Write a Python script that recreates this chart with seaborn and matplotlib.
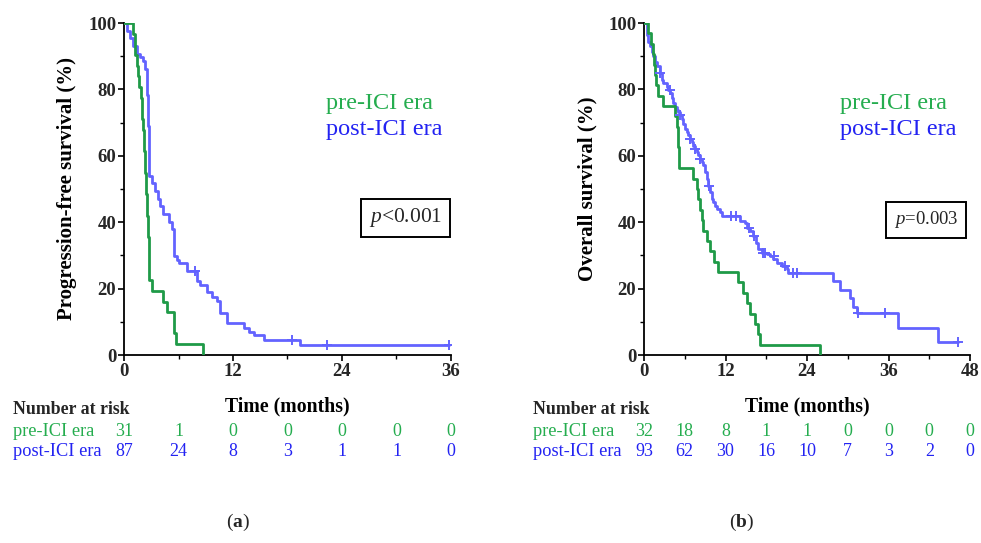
import matplotlib
matplotlib.use("Agg")
import matplotlib.pyplot as plt
import matplotlib.transforms as mtransforms
from matplotlib.ticker import MultipleLocator
import seaborn as sns
import pandas as pd

# ---------------- data ----------------
pfs_pre_t = [0, 1.0, 1.2, 1.4, 1.5, 1.7, 1.9, 2.0, 2.1, 2.2, 2.3, 2.4, 2.5, 2.6, 2.7, 2.8, 3.05, 4.27, 4.78, 5.5, 5.7, 8.7]
pfs_pre_s = [100, 96.8, 90.3, 87.1, 83.9, 80.6, 77.4, 71.0, 67.7, 61.3, 54.8, 48.4, 41.9, 35.5, 29.0, 22.6, 19.4, 16.1, 12.9, 6.5, 3.2, 0]

pfs_post_t = [0, 0.3, 0.66, 1.03, 1.4, 1.77, 2.13, 2.32, 2.5, 2.58, 2.65, 2.72, 2.8, 3.05, 3.42, 3.79, 3.97, 4.34, 4.9,
              5.26, 5.45, 5.52, 5.82, 6.0, 6.92, 8.02, 8.39, 9.13, 9.68, 10.23, 10.6, 11.34, 13.18, 13.73, 14.28, 15.38, 19.43, 35.8]
pfs_post_s = [100, 97.7, 95.4, 93.1, 90.8, 89.7, 88.5, 86.2, 83.9, 78.2, 69.0, 59.8, 54.0, 51.7, 49.4, 47.1, 44.8, 42.5, 40.2,
              37.9, 33.3, 29.9, 28.7, 27.6, 25.3, 22.2, 21.0, 18.9, 17.6, 16.4, 12.6, 9.5, 8.2, 7.0, 5.9, 4.6, 3.1, 3.1]
pfs_post_cens_t = [7.84, 18.51, 22.4, 35.8]
pfs_post_cens_s = [25.3, 4.6, 3.1, 3.1]

os_pre_t = [0, 0.64, 1.0, 1.37, 1.5, 1.62, 1.77, 2.11, 2.85, 4.56, 4.81, 5.0, 5.06, 5.2, 7.26, 7.8, 8.0, 8.3, 8.49, 8.74,
            9.23, 9.72, 10.3, 10.94, 13.9, 14.63, 15.12, 15.6, 16.34, 16.83, 17.08, 25.9]
os_pre_s = [100, 96.9, 93.75, 90.6, 87.5, 84.4, 81.25, 78.1, 75.0, 71.9, 68.75, 65.6, 62.5, 56.25, 53.1, 50.0, 46.9, 43.75, 40.6, 37.5,
            34.4, 31.25, 28.1, 25.0, 21.9, 18.75, 15.6, 12.5, 9.4, 6.25, 3.1, 0]

os_post_t = [0, 0.39, 0.64, 0.88, 1.13, 1.37, 1.62, 1.87, 2.36, 2.6, 2.85, 3.34, 3.58, 3.83, 4.07, 4.32, 4.56, 4.81, 5.06, 5.3,
             5.55, 5.79, 6.04, 6.28, 6.53, 6.77, 7.02, 7.26, 7.51, 7.75, 8.0, 8.25, 8.49, 8.74, 8.98, 9.23, 9.47, 9.72, 9.96, 10.21,
             10.45, 10.7, 11.19, 11.44, 14.13, 14.87, 15.12, 15.61, 16.1, 16.49, 16.83, 17.33, 18.06, 18.55, 19.04, 19.53, 20.27,
             21.0, 21.25, 27.88, 28.86, 30.33, 30.82, 31.31, 37.45, 43.34, 46.28]
os_post_s = [100, 96.5, 94.4, 93.0, 91.4, 90.0, 88.4, 86.9, 84.8, 82.8, 81.8, 80.8, 79.8, 78.8, 77.3, 75.8, 74.7, 73.7, 73.2, 72.2,
             71.2, 69.7, 68.2, 67.2, 66.2, 65.2, 64.1, 63.1, 62.1, 61.1, 60.1, 59.1, 58.1, 57.1, 55.0, 53.0, 51.0, 49.0, 47.0, 46.0,
             45.0, 44.0, 43.0, 42.0, 40.4, 39.9, 38.4, 37.4, 35.9, 33.8, 31.8, 30.8, 30.3, 29.8, 28.8, 27.8, 26.8,
             25.8, 24.7, 22.2, 19.7, 17.2, 14.6, 12.6, 8.1, 4.0, 4.0]
os_post_cens_t = [2.4, 3.8, 5.3, 6.8, 7.5, 8.2, 9.5, 12.8, 13.6, 15.4, 16.2, 17.5, 17.8, 19.2, 20.8, 21.9, 22.6, 31.5, 35.5, 46.28]
os_post_cens_s = [84.8, 79.8, 72.2, 65.2, 62.1, 59.1, 51.0, 42.0, 42.0, 38.4, 35.9, 30.8, 30.8, 29.8, 26.8, 24.7, 24.7, 12.6, 12.6, 4.0]

group_labels = ["pre-ICI era", "post-ICI era"]
risk_times_pfs = [0, 6, 12, 18, 24, 30, 36]
risk_pre_pfs = [31, 1, 0, 0, 0, 0, 0]
risk_post_pfs = [87, 24, 8, 3, 1, 1, 0]
risk_times_os = [0, 6, 12, 18, 24, 30, 36, 42, 48]
risk_pre_os = [32, 18, 8, 1, 1, 0, 0, 0, 0]
risk_post_os = [93, 62, 30, 16, 10, 7, 3, 2, 0]

p_texts = [r"$p$<0.001", r"$p$=0.003"]
ylabels = ["Progression-free survival (%)", "Overall survival (%)"]
panel_labels = ["a", "b"]

# ---------------- style ----------------
sns.set_theme(style="ticks")
plt.rcParams["font.family"] = ["Liberation Serif", "DejaVu Serif"]
plt.rcParams["mathtext.fontset"] = "custom"
plt.rcParams["mathtext.rm"] = "Liberation Serif"
plt.rcParams["mathtext.it"] = "Liberation Serif:italic"
plt.rcParams["mathtext.bf"] = "Liberation Serif:bold"

GREEN_LINE = "#1f9a48"
BLUE_LINE = "#6363ff"
GREEN_TXT = "#25ad4f"
BLUE_TXT = "#2323f2"

fig = plt.figure(figsize=(9.81, 5.43), dpi=100)
ax1 = fig.add_axes([124 / 981, (543 - 355) / 543, 327 / 981, 332 / 543])
ax2 = fig.add_axes([644 / 981, (543 - 355) / 543, 326 / 981, 332 / 543])

panels = [
    dict(ax=ax1, pre=(pfs_pre_t, pfs_pre_s), post=(pfs_post_t, pfs_post_s),
         cens=(pfs_post_cens_t, pfs_post_cens_s), xmax=36,
         rt=risk_times_pfs, rpre=risk_pre_pfs, rpost=risk_post_pfs,
         leg_x=22.2, p_xy=(31.0, 41.4), p_size=15.5, p_pad=0.35, ylab=ylabels[0], pl=panel_labels[0],
         row_x=13 / 981, pl_x=238 / 981, p_txt=p_texts[0], ylab_x=-0.145),
    dict(ax=ax2, pre=(os_pre_t, os_pre_s), post=(os_post_t, os_post_s),
         cens=(os_post_cens_t, os_post_cens_s), xmax=48,
         rt=risk_times_os, rpre=risk_pre_os, rpost=risk_post_os,
         leg_x=28.8, p_xy=(41.5, 40.7), p_size=13.5, p_pad=0.42, ylab=ylabels[1], pl=panel_labels[1],
         row_x=533 / 981, pl_x=742 / 981, p_txt=p_texts[1], ylab_x=-0.142),
]

for P in panels:
    ax = P["ax"]
    dpre = pd.DataFrame({"t": P["pre"][0], "s": P["pre"][1]})
    dpost = pd.DataFrame({"t": P["post"][0], "s": P["post"][1]})
    dc = pd.DataFrame({"t": P["cens"][0], "s": P["cens"][1]})
    sns.lineplot(data=dpost, x="t", y="s", ax=ax, color=BLUE_LINE, lw=2.0,
                 drawstyle="steps-post", estimator=None, sort=False, zorder=3)
    sns.lineplot(data=dpre, x="t", y="s", ax=ax, color=GREEN_LINE, lw=2.0,
                 drawstyle="steps-post", estimator=None, sort=False, zorder=4)
    sns.scatterplot(data=dc, x="t", y="s", ax=ax, color=BLUE_LINE, marker="+",
                    s=45, linewidth=1.4, zorder=5)

    ax.set_xlim(0, P["xmax"])
    ax.set_ylim(0, 100)
    ax.xaxis.set_major_locator(MultipleLocator(12))
    ax.xaxis.set_minor_locator(MultipleLocator(6))
    ax.yaxis.set_major_locator(MultipleLocator(20))
    ax.yaxis.set_minor_locator(MultipleLocator(10))
    for side in ["top", "right"]:
        ax.spines[side].set_visible(False)
    for side in ["left", "bottom"]:
        ax.spines[side].set_linewidth(1.3)
        ax.spines[side].set_color("black")
    ax.tick_params(which="major", direction="out", length=4.5, width=1.2, color="black",
                   labelsize=13.5, pad=1)
    ax.tick_params(which="minor", direction="out", length=3, width=1.0, color="black")
    for lab in ax.get_xticklabels() + ax.get_yticklabels():
        lab.set_fontweight("bold")
    ax.set_facecolor("white")
    ax.grid(False)

    ax.set_ylabel(P["ylab"], fontsize=15, fontweight="bold", color="black")
    ax.yaxis.set_label_coords(P["ylab_x"], 0.5)
    ax.set_xlabel("Time (months)", fontsize=14.2, fontweight="bold", color="black")
    ax.xaxis.set_label_coords(0.5, -0.125)

    ax.text(P["leg_x"], 75.9, group_labels[0], color=GREEN_TXT, fontsize=17.5, va="center", ha="left")
    ax.text(P["leg_x"], 67.8, group_labels[1], color=BLUE_TXT, fontsize=17.5, va="center", ha="left")

    ax.text(P["p_xy"][0], P["p_xy"][1], P["p_txt"], fontsize=P["p_size"], ha="center", va="center",
            bbox=dict(boxstyle="square,pad=%s" % P["p_pad"], fc="white", ec="black", lw=1.4))

    tr = mtransforms.blended_transform_factory(ax.transData, fig.transFigure)
    y_pre = 1 - 431 / 543
    y_post = 1 - 451 / 543
    for t, n in zip(P["rt"], P["rpre"]):
        ax.text(t, y_pre, str(n), transform=tr, color=GREEN_TXT, fontsize=13, ha="center", va="center", clip_on=False)
    for t, n in zip(P["rt"], P["rpost"]):
        ax.text(t, y_post, str(n), transform=tr, color=BLUE_TXT, fontsize=13, ha="center", va="center", clip_on=False)
    fig.text(P["row_x"], 1 - 410 / 543, "Number at risk", fontsize=12.8, fontweight="bold", ha="left", va="center")
    fig.text(P["row_x"], y_pre, group_labels[0], color=GREEN_TXT, fontsize=13.2, ha="left", va="center")
    fig.text(P["row_x"], y_post, group_labels[1], color=BLUE_TXT, fontsize=13.2, ha="left", va="center")

    fig.text(P["pl_x"], 1 - 522 / 543, "(" + r"$\mathbf{" + P["pl"] + "}$" + ")", fontsize=14,
             ha="center", va="center")

fig.savefig("out.png", dpi=100, facecolor="white")
